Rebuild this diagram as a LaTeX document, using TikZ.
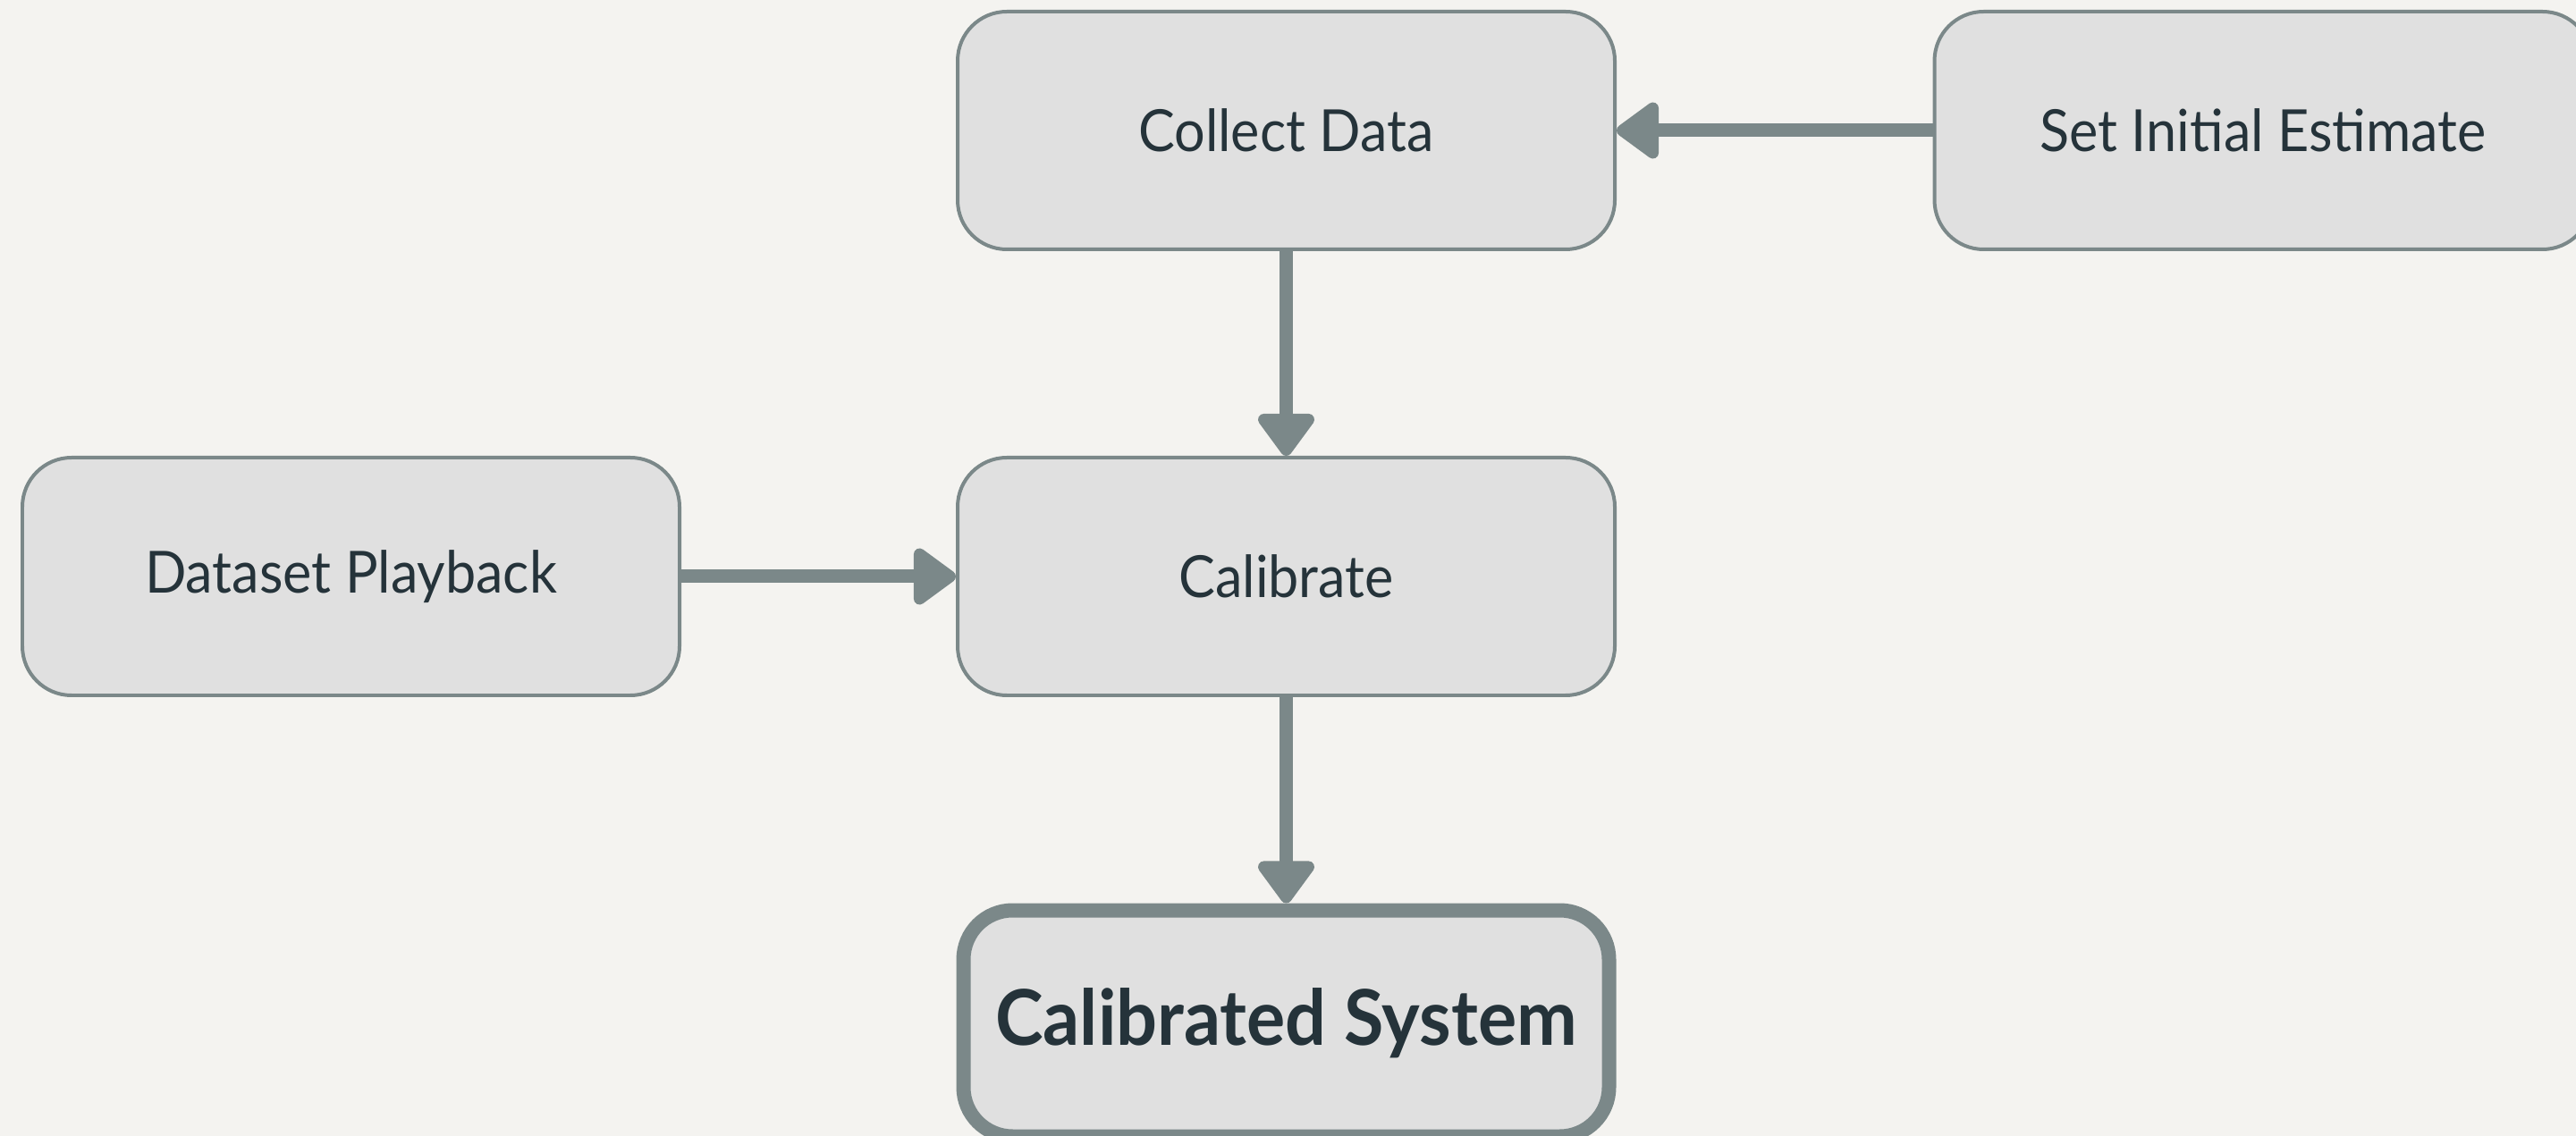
\documentclass[tikz,border=0pt]{standalone}
\usepackage{fontspec}
\setmainfont{Lato}[FakeStretch=0.94]
\usetikzlibrary{arrows.meta}

\definecolor{bgpaper}{HTML}{F4F3F0}
\definecolor{boxfill}{HTML}{E0E0E0}
\definecolor{edgegray}{HTML}{7B8889}
\definecolor{inkdark}{HTML}{25333A}

\tikzset{
  stage/.style={draw=edgegray, fill=boxfill, line width=0.04cm, rounded corners=0.55cm,
    minimum width=7.35cm, minimum height=2.66cm, inner sep=0pt, text=inkdark,
    font=\fontsize{18.5}{22}\selectfont},
  result/.style={stage, line width=0.16cm, minimum width=7.22cm, minimum height=2.53cm,
    font=\bfseries\fontsize{24.5}{29}\selectfont},
  flow/.style={draw=edgegray, line width=0.15cm,
    -{Triangle[width=0.72cm,length=0.52cm,round]}},
}

\begin{document}
\begin{tikzpicture}
    %page and background
        \useasboundingbox[fill=bgpaper] (0,0) rectangle (28.81,-12.71);

    %the stages
        \node[stage] (collect) at (14.385,-1.46) {Collect Data};
        \node[stage] (estimate) at (25.31,-1.46) {Set Initial Estimate};
        \node[stage] (playback) at (3.925,-6.45) {Dataset Playback};
        \node[stage] (calibrate) at (14.385,-6.45) {Calibrate};
        \node[result] (system) at (14.385,-11.45) {Calibrated System};

    %flow between stages
        \draw[flow] (estimate) -- (collect);
        \draw[flow] (collect) -- (calibrate);
        \draw[flow] (playback) -- (calibrate);
        \draw[flow] (calibrate) -- (system);
\end{tikzpicture}
\end{document}
